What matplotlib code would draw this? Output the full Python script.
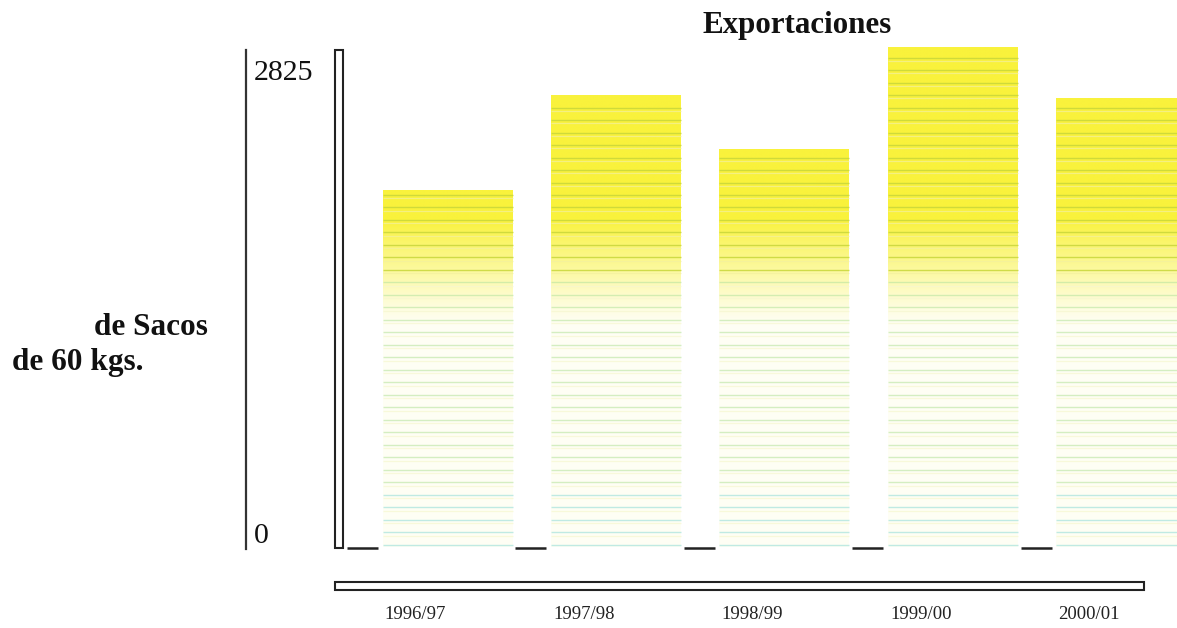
import matplotlib
matplotlib.use("Agg")
import matplotlib.pyplot as plt
import matplotlib.transforms as mtransforms
from matplotlib.patches import Rectangle
import numpy as np

plt.rcParams['font.family'] = ['Liberation Serif', 'DejaVu Serif']

# data
seasons = ["1996/97", "1997/98", "1998/99", "1999/00", "2000/01"]
exports = [2017, 2554, 2249, 2825, 2537]
y_max = 2825
title = "Exportaciones"

fig = plt.figure(figsize=(11.77, 6.28), dpi=100)
W, H = 1177, 628
# axes: left spine at px 246, value 0 at px 547, value 2825 at px 47
ax = fig.add_axes([246 / W, (H - 547) / H, (W - 246) / W, 500 / H])
step = 168.4
x0_px = 447.5
ax.set_xlim((246 - x0_px) / step, (W - x0_px) / step)
ax.set_ylim(0, y_max)
for s in ["top", "right", "bottom"]:
    ax.spines[s].set_visible(False)
ax.spines["left"].set_color("#333333")
ax.spines["left"].set_linewidth(1.6)
ax.spines["left"].set_bounds(-10, y_max - 15)
ax.set_xticks([])
ax.set_yticks([])

x = np.arange(len(seasons))
width = 130 / step
bars = ax.bar(x, exports, width, color="none", edgecolor="none", zorder=2)

# vertical gradient: strong yellow at the top fading to white
ys = np.linspace(0, y_max, 600)
yellow = np.array([249, 242, 60]) / 255.0
white = np.array([255, 255, 252]) / 255.0
k = np.clip((ys - 1250) / (1850 - 1250), 0, 1) ** 1.2
k = 0.04 + 0.96 * k
grad = white[None, :] * (1 - k[:, None]) + yellow[None, :] * k[:, None]
img = np.repeat(grad[:, None, :], 2, axis=1)

stripe_y = np.arange(12, y_max + 80, 70.6)
for bar in bars:
    bx = bar.get_x()
    bw = bar.get_width()
    h = bar.get_height()
    im = ax.imshow(img, extent=[bx, bx + bw, 0, y_max], origin="lower",
                   aspect="auto", zorder=1, interpolation="bilinear")
    im.set_clip_path(bar)
    for sy in stripe_y:
        if sy > h - 8:
            continue
        if sy > 1500:
            c, a = "#c8d63a", 0.85
        elif sy > 300:
            c, a = "#b8e4a0", 0.6
        else:
            c, a = "#a6e2dc", 0.7
        ax.hlines(sy, bx, bx + bw, color=c, lw=1.0, zorder=3, alpha=a)
        ax.hlines(sy - 18, bx, bx + bw, color="#f3f0a0" if sy > 1500 else "#f6f7d0",
                  lw=0.9, zorder=3, alpha=0.7)

# short baseline dashes left of each bar
for xi in x:
    ax.plot([xi - 0.597, xi - 0.413], [-8, -8], color="#222222", lw=1.8,
            solid_capstyle="butt", clip_on=False, zorder=4)

# hollow frames
ax.add_patch(Rectangle((-0.668, -5), 0.048, 2815, facecolor="white",
                       edgecolor="#222222", lw=1.5, clip_on=False, zorder=4))
ax.add_patch(Rectangle((-0.668, -243), 4.804, 45, facecolor="white",
                       edgecolor="#222222", lw=1.5, clip_on=False, zorder=4))

# category labels
for xi, lab in zip(x, seasons):
    ax.text(xi - 0.19, -380, lab, ha="center", va="center", fontsize=13.5,
            color="#222222")

# value labels on the axis
ytr = ax.get_yaxis_transform()
ax.text(0.008, y_max, "2825", fontsize=21.5, color="#111111", ha="left",
        va="baseline",
        transform=ytr + mtransforms.ScaledTranslation(0, -33 / 100, fig.dpi_scale_trans))
ax.text(0.008, 0, "0", fontsize=21.5, color="#111111", ha="left",
        va="baseline",
        transform=ytr + mtransforms.ScaledTranslation(0, 4 / 100, fig.dpi_scale_trans))

fig.text(797 / W, 1 - 33 / H, title, ha="center", va="baseline",
         fontsize=22.3, fontweight="bold", color="#111111")
fig.text(208 / W, 1 - 335 / H, "de Sacos", ha="right", va="baseline",
         fontsize=22.5, fontweight="bold", color="#111111")
fig.text(143 / W, 1 - 370 / H, "de 60 kgs.", ha="right", va="baseline",
         fontsize=22.5, fontweight="bold", color="#111111")

fig.savefig("out.png", dpi=100)
